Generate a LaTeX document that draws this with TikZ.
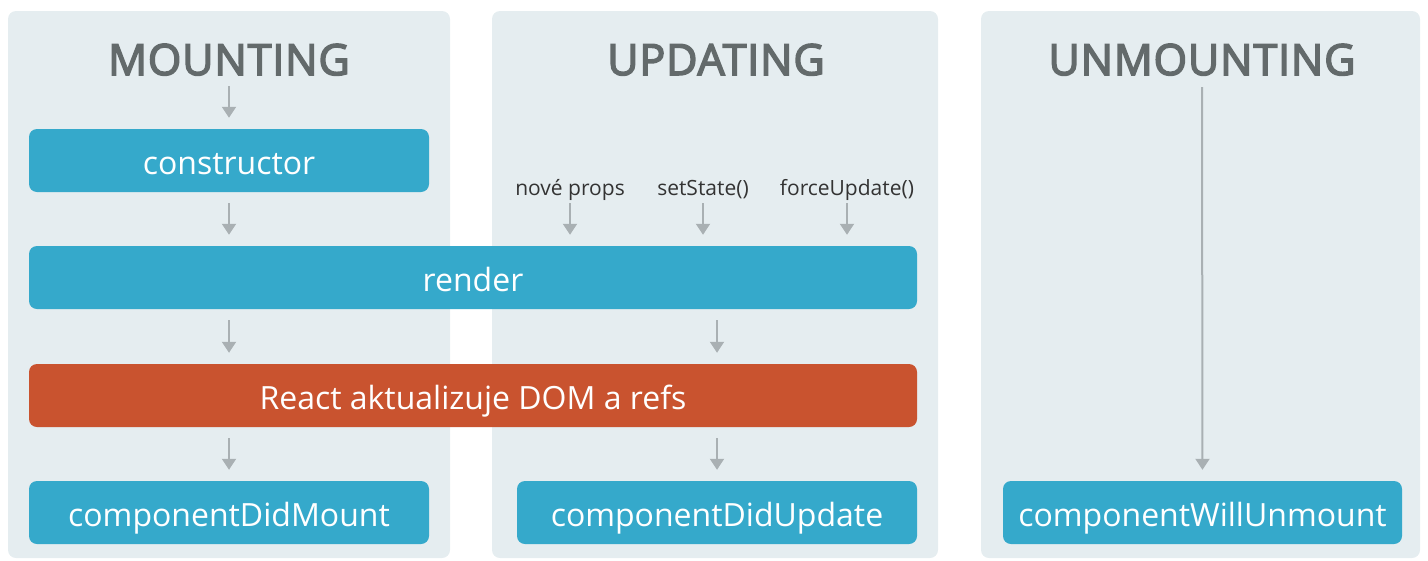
\documentclass[tikz,border=0pt]{standalone}
\usepackage{fontspec}
\setmainfont{Open Sans}
\newfontfamily\phasefont{Open Sans}[FakeBold=3.5, LetterSpace=2]
\usetikzlibrary{arrows.meta,positioning}

\definecolor{panelbg}{HTML}{E5EDF0}
\definecolor{boxblue}{HTML}{35A9CB}
\definecolor{boxred}{HTML}{C9532F}
\definecolor{arrgray}{HTML}{A9B0B3}
\definecolor{titlegray}{HTML}{636A6B}

\tikzset{
    panel/.style={fill=panelbg, rounded corners=8pt},
    phase/.style={text=titlegray, text height=30pt, text depth=0pt, inner sep=0pt,
        font=\phasefont\fontsize{43}{48}\selectfont},
    method/.style={fill=boxblue, text=white, rounded corners=8pt, minimum height=63pt,
        minimum width=400pt, inner sep=0pt, text height=30pt, text depth=3pt,
        font=\fontsize{32}{38}\selectfont},
    trigger/.style={text=black!80, text height=14pt, text depth=0pt, inner sep=0pt,
        font=\fontsize{21}{25}\selectfont},
    flow/.style={arrgray, line width=2pt, -{Triangle[width=14pt,length=11pt]}}
}

\begin{document}
\begin{tikzpicture}[x=1pt, y=-1pt]
    \useasboundingbox (0,0) rectangle (1428,560);

    % columns
    \fill[panel] (8,11) rectangle (450,558);
    \fill[panel] (492,11) rectangle (938,558);
    \fill[panel] (981,11) rectangle (1420,558);

    \node[phase] (mount) at (229,60) {MOUNTING};
    \node[phase] (update) at (716,60) {UPDATING};
    \node[phase] (unmount) at (1202,60) {UNMOUNTING};

    \node[method] (constr) at (229,160.5) {constructor};
    \node[method, minimum width=888pt] (render) at (473,277.5) {render};
    \node[method, minimum width=888pt, fill=boxred] (dom) at (473,395.5) {React aktualizuje DOM a refs};
    \node[method] (didmount) at (229,512.5) {componentDidMount};
    \node[method] (didupdate) at (717,512.5) {componentDidUpdate};
    \node[method, minimum width=399pt] (willunmount) at (1202.5,512.5) {componentWillUnmount};

    \node[trigger] (props) at (570,188) {nové props};
    \node[trigger] (setstate) at (703,188) {setState()};
    \node[trigger] (force) at (847,188) {forceUpdate()};

    \coordinate (mstart) at (229,86);
    \coordinate (ustart) at (1202,87);

    % mounting
    \draw[flow] (mstart) -- ([yshift=11pt]constr.north);
    \draw[flow, shorten <=11pt, shorten >=11pt] (constr.south) -- (constr.south |- render.north);
    \draw[flow, shorten <=11pt, shorten >=11pt] (render.south -| constr) -- (dom.north -| constr);
    \draw[flow, shorten <=11pt, shorten >=11pt] (dom.south -| didmount) -- (didmount.north);

    % updating
    \foreach \t in {props,setstate,force}
        \draw[flow, shorten >=11pt] ([yshift=-8pt]\t.south) -- (\t.south |- render.north);
    \draw[flow, shorten <=11pt, shorten >=11pt] (render.south -| didupdate) -- (dom.north -| didupdate);
    \draw[flow, shorten <=11pt, shorten >=11pt] (dom.south -| didupdate) -- (didupdate.north);

    % unmounting
    \draw[flow, shorten >=11pt] (ustart) -- (willunmount.north);
\end{tikzpicture}
\end{document}
